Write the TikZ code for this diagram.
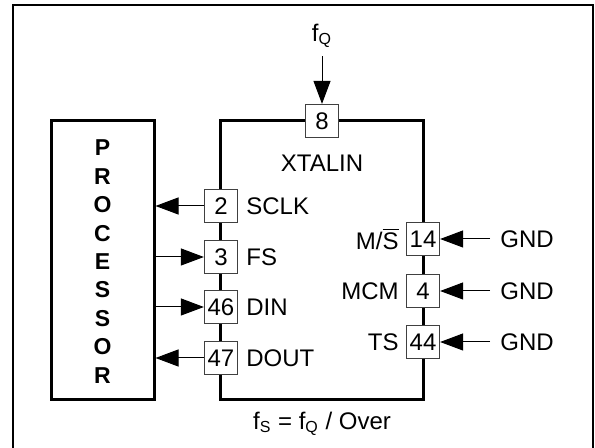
\documentclass[tikz,border=0pt]{standalone}
\usepackage{fontspec}
\setmainfont{Liberation Sans}
\usepackage{tikz}
\usetikzlibrary{arrows.meta,positioning}
\tikzset{
  blkline/.style={draw, line width=1.5pt, inner sep=0pt},
  pin/.style={draw=black!75, line width=0.6pt, fill=white, inner sep=0pt,
              minimum size=16.5pt, font=\fontsize{12}{14}\selectfont},
  sig/.style={-{Triangle[length=11.5pt,width=8.5pt]}, line width=0.5pt},
  lbl/.style={font=\fontsize{12}{14}\selectfont, inner sep=0pt},
}

\begin{document}
\begin{tikzpicture}[x=0.5pt, y=-0.5pt]
\useasboundingbox (0,0) rectangle (595,448);
\draw[line width=1pt] (13,448) -- (13,5) -- (593,5) -- (593,448);

% ------------------------- blocks ---------------------------------------
\node[blkline, minimum width=51.5pt, minimum height=139.5pt] at (102.5,260.5) (proc)
   {};
\node[lbl, align=center, font=\bfseries\fontsize{11.5}{14.2}\selectfont] at (102.5,261.5)
   (proctxt) {P\\R\\O\\C\\E\\S\\S\\O\\R};
\node[blkline, minimum width=101.5pt, minimum height=139.5pt] at (321.5,260.5) (chip)
   {};
\node[lbl] at (322,163) (xtal) {XTALIN};

% ------------------------- pins -----------------------------------------
\node[pin] at (322,121) (p8)  {8};
\node[pin] at (221,206) (p2)  {2};
\node[pin] at (221,257) (p3)  {3};
\node[pin] at (221,307) (p46) {46};
\node[pin] at (221,358) (p47) {47};
\node[pin] at (423,239) (p14) {14};
\node[pin] at (423,291) (p4)  {4};
\node[pin] at (423,342) (p44) {44};

\node[lbl, anchor=west] at (246,206) (sclk) {SCLK};
\node[lbl, anchor=west] at (246,257) (fs)   {FS};
\node[lbl, anchor=west] at (246,307) (din)  {DIN};
\node[lbl, anchor=west] at (246,358) (dout) {DOUT};
\node[lbl, anchor=east] at (399,239) (ms)   {M/$\overline{\mbox{S}}$};
\node[lbl, anchor=east] at (399,291) (mcm)  {MCM};
\node[lbl, anchor=east] at (399,342) (ts)   {TS};

% ------------------------- signals --------------------------------------
\node[lbl] at (322,36) (fq) {f\textsubscript{Q}};
\draw[sig] (fq.south) ++(0,8) coordinate (fqs) (fqs) -- (p8.north);

\draw[sig] (p2.west)  -- (proc.east|-p2);
\draw[sig] (proc.east|-p3)  -- (p3.west);
\draw[sig] (proc.east|-p46) -- (p46.west);
\draw[sig] (p47.west) -- (proc.east|-p47);

\foreach \p/\n in {p14/g1,p4/g2,p44/g3}{
  \node[lbl, anchor=west] at (500,0|-\p) (\n) {GND};
  \draw[sig] ([xshift=-5pt]\n.west) -- (\p.east);
}

\node[lbl] at (322,424) (fs_eq)
   {f\textsubscript{S} = f\textsubscript{Q} / Over};
\end{tikzpicture}
\end{document}
